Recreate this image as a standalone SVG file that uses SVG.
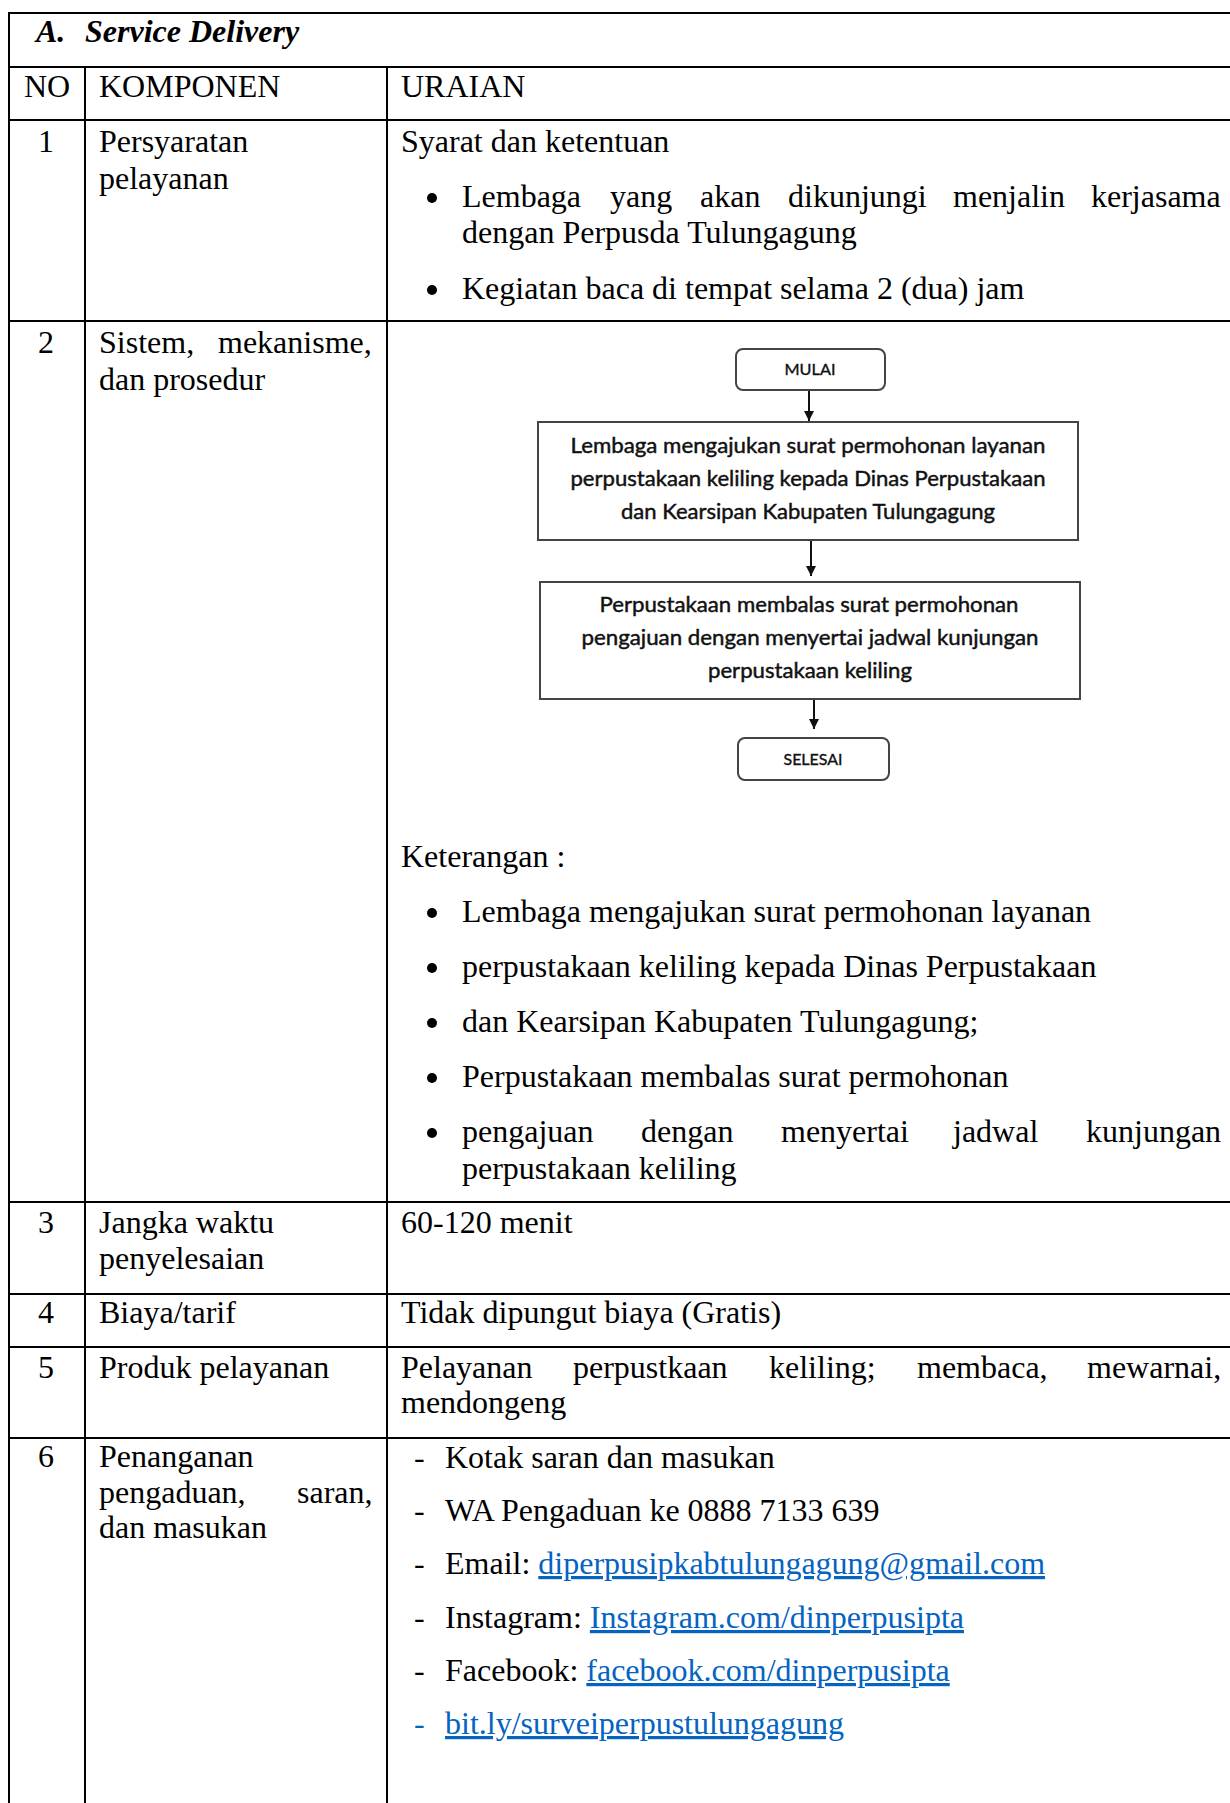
<svg xmlns="http://www.w3.org/2000/svg" width="1230" height="1803" viewBox="0 0 1230 1803">
  <style>
    .t { font-family: "Liberation Serif", "Times New Roman", serif; font-size: 32px; fill: #000; }
    .hd { font-weight: bold; font-style: italic; }
    .mid { text-anchor: middle; }
    .link { fill: #0563C1; text-decoration: underline; }
    .grid line { stroke: #000; stroke-width: 2; }
    .box { fill: #fff; stroke: #444; stroke-width: 2; }
    .fc { font-family: Lato, "Liberation Sans", sans-serif; font-size: 21px; fill: #111; stroke: #111; stroke-width: 0.45; text-anchor: middle; }
    .fcs { font-size: 15px; stroke-width: 0.35; }
    .conn line { stroke: #111; stroke-width: 2; }
    .dot { fill: #000; }
  </style>
  <defs>
    <marker id="arrow" viewBox="0 0 10 10" refX="10" refY="5" markerWidth="5" markerHeight="5" orient="auto" markerUnits="strokeWidth">
      <path d="M0,0 L10,5 L0,10 Z" fill="#111"/>
    </marker>
  </defs>
  <rect width="1230" height="1803" fill="#fff"/>

  <!-- table rules -->
  <g id="grid" class="grid">
    <line x1="8" y1="13" x2="1230" y2="13"/>
    <line x1="8" y1="67" x2="1230" y2="67"/>
    <line x1="8" y1="120" x2="1230" y2="120"/>
    <line x1="8" y1="321" x2="1230" y2="321"/>
    <line x1="8" y1="1202" x2="1230" y2="1202"/>
    <line x1="8" y1="1294" x2="1230" y2="1294"/>
    <line x1="8" y1="1347" x2="1230" y2="1347"/>
    <line x1="8" y1="1438" x2="1230" y2="1438"/>
    <line x1="9" y1="12" x2="9" y2="1803"/>
    <line x1="85" y1="67" x2="85" y2="1803"/>
    <line x1="387" y1="67" x2="387" y2="1803"/>
  </g>

  <!-- section title and column heads -->
  <g id="title">
    <text class="t hd" x="36" y="42">A.</text>
    <text class="t hd" x="85" y="42">Service Delivery</text>
  </g>
  <g id="heads">
    <text class="t" x="24" y="97">NO</text>
    <text class="t" x="99" y="97">KOMPONEN</text>
    <text class="t" x="401" y="97">URAIAN</text>
  </g>

  <!-- row 1 -->
  <g id="row1">
    <text class="t mid" x="46" y="152">1</text>
    <text class="t" x="99" y="152">Persyaratan</text>
    <text class="t" x="99" y="189">pelayanan</text>
    <text class="t" x="401" y="152">Syarat dan ketentuan</text>
    <circle class="dot" cx="432" cy="198" r="5"/>
    <text class="t" y="207"><tspan x="462">Lembaga</tspan><tspan x="610">yang</tspan><tspan x="700">akan</tspan><tspan x="788">dikunjungi</tspan><tspan x="953">menjalin</tspan><tspan x="1091">kerjasama</tspan></text>
    <text class="t" x="462" y="243">dengan Perpusda Tulungagung</text>
    <circle class="dot" cx="432" cy="290" r="5"/>
    <text class="t" x="462" y="299">Kegiatan baca di tempat selama 2 (dua) jam</text>
  </g>

  <!-- row 2 -->
  <g id="row2">
    <text class="t mid" x="46" y="353">2</text>
    <text class="t" y="353"><tspan x="99">Sistem,</tspan><tspan x="218">mekanisme,</tspan></text>
    <text class="t" x="99" y="390">dan prosedur</text>
  </g>

  <!-- flowchart nodes -->
  <g id="fc-mulai">
    <rect class="box" x="736" y="349" width="149" height="41" rx="7"/>
    <text class="fc fcs" x="810" y="375" textLength="51" lengthAdjust="spacingAndGlyphs">MULAI</text>
  </g>
  <g id="fc-ajukan">
    <rect class="box" x="538" y="422" width="540" height="118"/>
    <text class="fc" x="808" y="453" textLength="475" lengthAdjust="spacingAndGlyphs">Lembaga mengajukan surat permohonan layanan</text>
    <text class="fc" x="808" y="486" textLength="475" lengthAdjust="spacingAndGlyphs">perpustakaan keliling kepada Dinas Perpustakaan</text>
    <text class="fc" x="808" y="519" textLength="374" lengthAdjust="spacingAndGlyphs">dan Kearsipan Kabupaten Tulungagung</text>
  </g>
  <g id="fc-balas">
    <rect class="box" x="540" y="582" width="540" height="117"/>
    <text class="fc" x="809" y="612" textLength="419" lengthAdjust="spacingAndGlyphs">Perpustakaan membalas surat permohonan</text>
    <text class="fc" x="810" y="645" textLength="457" lengthAdjust="spacingAndGlyphs">pengajuan dengan menyertai jadwal kunjungan</text>
    <text class="fc" x="810" y="678" textLength="204" lengthAdjust="spacingAndGlyphs">perpustakaan keliling</text>
  </g>
  <g id="fc-selesai">
    <rect class="box" x="738" y="738" width="151" height="42" rx="7"/>
    <text class="fc fcs" x="813" y="765" textLength="59" lengthAdjust="spacingAndGlyphs">SELESAI</text>
  </g>

  <!-- flowchart connectors -->
  <g id="connectors" class="conn">
    <line x1="809" y1="391" x2="809" y2="421" marker-end="url(#arrow)"/>
    <line x1="811" y1="541" x2="811" y2="576" marker-end="url(#arrow)"/>
    <line x1="814" y1="700" x2="814" y2="729" marker-end="url(#arrow)"/>
  </g>

  <!-- row 2 notes -->
  <g id="row2-notes">
    <text class="t" x="401" y="867">Keterangan :</text>
    <circle class="dot" cx="432" cy="913" r="5"/>
    <text class="t" x="462" y="922">Lembaga mengajukan surat permohonan layanan</text>
    <circle class="dot" cx="432" cy="968" r="5"/>
    <text class="t" x="462" y="977">perpustakaan keliling kepada Dinas Perpustakaan</text>
    <circle class="dot" cx="432" cy="1023" r="5"/>
    <text class="t" x="462" y="1032">dan Kearsipan Kabupaten Tulungagung;</text>
    <circle class="dot" cx="432" cy="1078" r="5"/>
    <text class="t" x="462" y="1087">Perpustakaan membalas surat permohonan</text>
    <circle class="dot" cx="432" cy="1133" r="5"/>
    <text class="t" y="1142"><tspan x="462">pengajuan</tspan><tspan x="641">dengan</tspan><tspan x="781">menyertai</tspan><tspan x="953">jadwal</tspan><tspan x="1086">kunjungan</tspan></text>
    <text class="t" x="462" y="1179">perpustakaan keliling</text>
  </g>

  <!-- row 3 -->
  <g id="row3">
    <text class="t mid" x="46" y="1233">3</text>
    <text class="t" x="99" y="1233">Jangka waktu</text>
    <text class="t" x="99" y="1269">penyelesaian</text>
    <text class="t" x="401" y="1233">60-120 menit</text>
  </g>

  <!-- row 4 -->
  <g id="row4">
    <text class="t mid" x="46" y="1323">4</text>
    <text class="t" x="99" y="1323">Biaya/tarif</text>
    <text class="t" x="401" y="1323">Tidak dipungut biaya (Gratis)</text>
  </g>

  <!-- row 5 -->
  <g id="row5">
    <text class="t mid" x="46" y="1378">5</text>
    <text class="t" x="99" y="1378">Produk pelayanan</text>
    <text class="t" y="1378"><tspan x="401">Pelayanan</tspan><tspan x="573">perpustkaan</tspan><tspan x="769">keliling;</tspan><tspan x="917">membaca,</tspan><tspan x="1087">mewarnai,</tspan></text>
    <text class="t" x="401" y="1413">mendongeng</text>
  </g>

  <!-- row 6 -->
  <g id="row6">
    <text class="t mid" x="46" y="1467">6</text>
    <text class="t" x="99" y="1467">Penanganan</text>
    <text class="t" y="1503"><tspan x="99">pengaduan,</tspan><tspan x="297">saran,</tspan></text>
    <text class="t" x="99" y="1538">dan masukan</text>

    <text class="t" x="414" y="1468">-</text>
    <text class="t" x="445" y="1468">Kotak saran dan masukan</text>
    <text class="t" x="414" y="1521">-</text>
    <text class="t" x="445" y="1521">WA Pengaduan ke 0888 7133 639</text>
    <text class="t" x="414" y="1574">-</text>
    <text class="t" x="445" y="1574">Email: <tspan class="link">diperpusipkabtulungagung@gmail.com</tspan></text>
    <text class="t" x="414" y="1628">-</text>
    <text class="t" x="445" y="1628">Instagram: <tspan class="link">Instagram.com/dinperpusipta</tspan></text>
    <text class="t" x="414" y="1681">-</text>
    <text class="t" x="445" y="1681">Facebook: <tspan class="link">facebook.com/dinperpusipta</tspan></text>
    <text class="t" x="414" y="1734" style="fill:#0563C1">-</text>
    <text class="t link" x="445" y="1734">bit.ly/surveiperpustulungagung</text>
  </g>
</svg>
